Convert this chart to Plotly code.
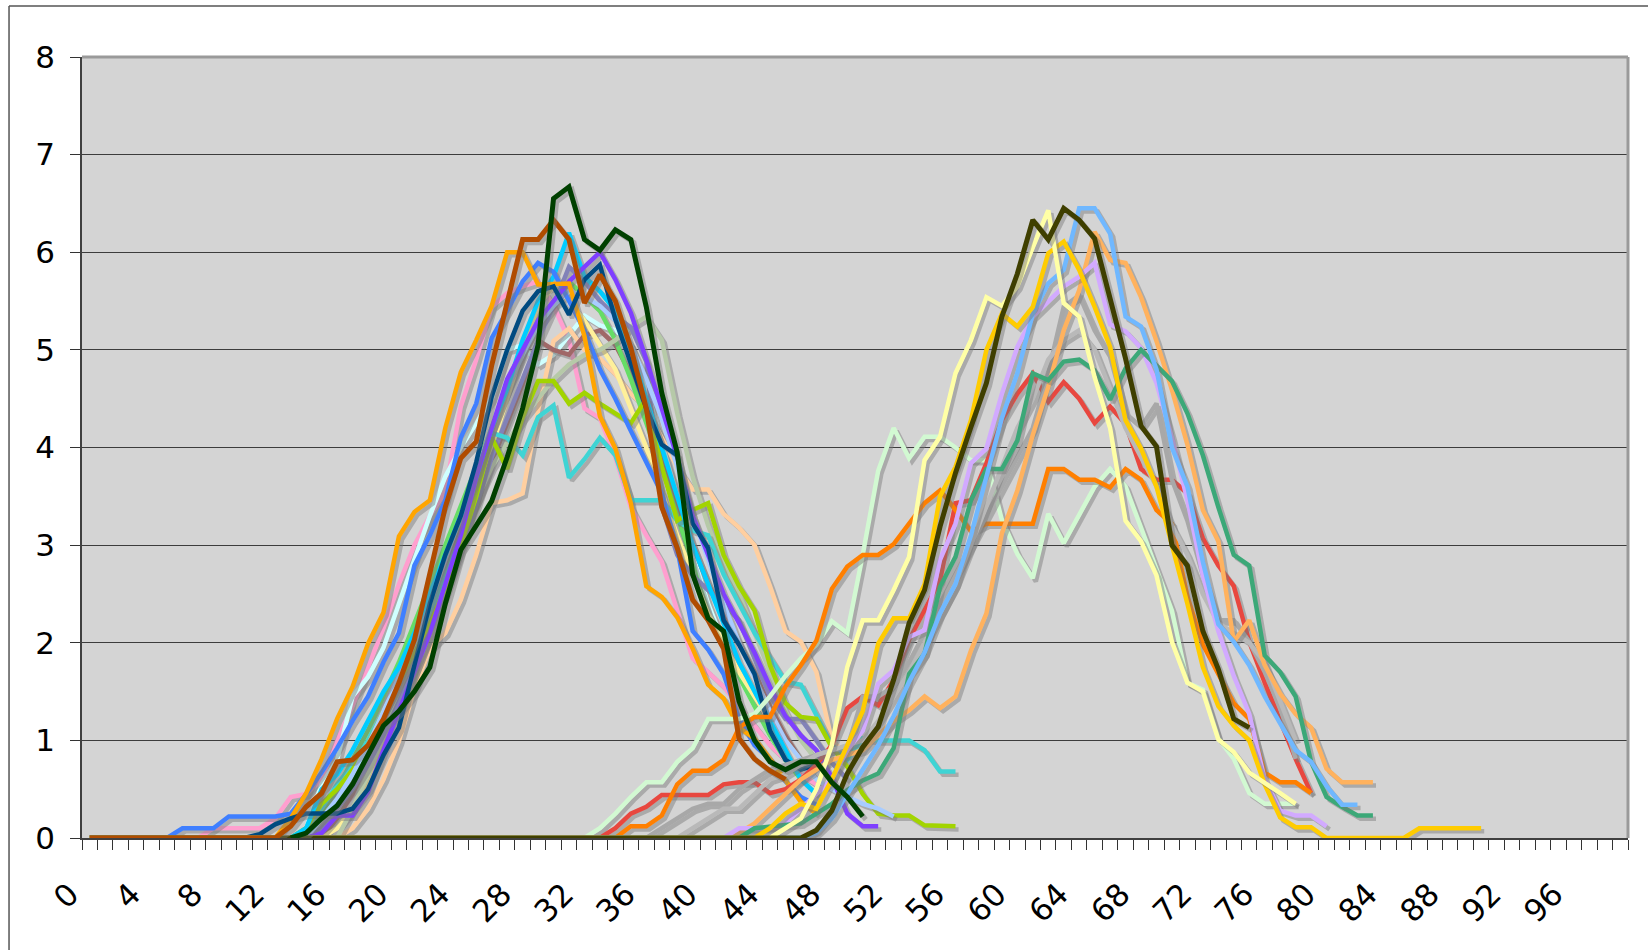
import plotly.graph_objects as go

# ---- category axis -------------------------------------------------------
n_categories = 100
x_tick_values = list(range(0, 97, 4))
x_tick_labels = [str(v) for v in x_tick_values]
y_tick_values = list(range(0, 9))

# ---- first group of curves (rise ~14, peak ~30, fall by ~50) -------------
pink_start = 0
pink = [0.0] * 8 + [0.1, 0.1, 0.1, 0.1, 0.2, 0.42, 0.45, 0.6, 1.0, 1.35, 1.75, 2.15, 2.6, 3.0, 3.3,
                    3.55, 4.42, 4.9, 5.44, 5.58, 5.65, 5.7, 5.45, 5.1, 4.4, 4.3, 3.9, 3.39, 3.1, 2.83,
                    2.33, 1.84, 1.7, 1.55, 1.35, 1.15, 0.95, 0.8, 0.65, 0.55]

light_cyan_start = 0
light_cyan = [0.0] * 14 + [0.1, 0.55, 0.8, 1.45, 1.65, 1.95, 2.4, 2.85, 3.3, 3.7, 4.0, 4.25, 4.5, 5.0,
                           5.05, 4.85, 4.95, 5.15, 5.35, 5.25, 5.2, 5.05, 4.6, 4.05, 3.5, 2.9, 2.4,
                           2.0, 1.65, 1.35, 1.05, 0.8, 0.6]

peach_start = 0
peach = [0.0] * 17 + [0.1, 0.3, 0.6, 0.99, 1.52, 1.94, 2.1, 2.44, 2.9, 3.43, 3.46, 3.53, 4.38, 5.09,
                      5.22, 5.0, 4.91, 4.75, 4.55, 4.4, 4.1, 3.8, 3.57, 3.57, 3.32, 3.18, 3.0, 2.58,
                      2.12, 2.01, 1.7, 1.0, 0.85]

dusty_rose_start = 0
dusty_rose = [0.0] * 16 + [0.2, 0.45, 0.8, 1.2, 1.6, 2.0, 2.45, 2.75, 3.15, 3.45, 3.85, 4.25, 4.65,
                           5.1, 5.0, 4.95, 5.15, 5.2, 5.05, 4.75, 4.35, 3.9, 3.4, 3.0, 2.6, 2.3,
                           2.0, 1.7, 1.35, 1.05, 0.8]

green_start = 0
green = [0.0] * 15 + [0.25, 0.5, 0.8, 1.1, 1.45, 1.8, 2.2, 2.6, 3.0, 3.4, 3.8, 4.2, 4.6, 5.0, 5.3,
                      5.5, 5.7, 5.55, 5.4, 5.1, 4.7, 4.25, 3.8, 3.3, 2.8, 2.3, 1.95, 1.65, 1.35,
                      1.05, 0.8, 0.6]

pale_yellow_start = 0
pale_yellow = [0.0] * 16 + [0.1, 0.3, 0.6, 0.95, 1.3, 1.7, 2.1, 2.55, 3.0, 3.5, 4.0, 4.5, 5.0, 5.45,
                            5.65, 5.5, 5.3, 5.05, 4.8, 4.4, 4.0, 3.55, 3.1, 2.7, 2.3, 2.0, 1.7,
                            1.45, 1.2, 1.0, 0.8, 0.6]

sage_start = 0
sage = [0.0] * 17 + [0.3, 0.65, 1.05, 1.45, 1.85, 2.25, 2.65, 3.05, 3.45, 3.8, 4.05, 4.3, 4.5, 4.7,
                     4.85, 4.95, 5.0, 5.1, 5.24, 5.34, 5.1, 4.35, 3.7, 3.2, 2.8, 2.5, 2.1, 1.7,
                     1.3, 1.0, 0.8, 0.6]

slate_start = 0
slate = [0.0] * 15 + [0.1, 0.3, 0.5, 0.75, 1.05, 1.4, 1.75, 2.1, 2.5, 2.95, 3.4, 3.9, 4.3, 4.7, 5.1,
                      5.45, 5.85, 5.7, 5.5, 5.35, 5.23, 4.88, 3.4, 2.9, 2.69, 2.54, 2.4, 2.23,
                      1.85, 1.45, 1.22, 1.22, 1.0, 0.77, 0.6]

turquoise_start = 0
turquoise = [0.0] * 14 + [0.1, 0.3, 0.55, 0.75, 1.0, 1.3, 1.6, 1.9, 2.3, 2.7, 3.1, 3.5, 4.15, 4.1,
                          3.92, 4.31, 4.43, 3.69, 3.88, 4.1, 3.92, 3.46, 3.46, 3.46, 3.25, 3.15,
                          3.1, 2.7, 2.4, 2.1, 1.85, 1.6, 1.57, 1.25, 0.95, 0.8, 1.02, 1.0, 1.0,
                          1.0, 0.9, 0.68, 0.68]

yellow_green_start = 0
yellow_green = [0.0] * 14 + [0.1, 0.35, 0.5, 0.7, 0.95, 1.3, 1.6, 1.9, 2.2, 2.55, 3.0, 3.5, 4.1,
                             3.78, 4.31, 4.68, 4.68, 4.45, 4.56, 4.45, 4.35, 4.25, 4.5, 3.8, 3.25,
                             3.36, 3.43, 2.9, 2.58, 2.33, 1.77, 1.38, 1.24, 1.22, 0.93, 0.73,
                             0.45, 0.25, 0.23, 0.23, 0.13, 0.12, 0.12]

light_blue_start = 0
light_blue = [0.0] * 15 + [0.2, 0.4, 0.65, 0.95, 1.3, 1.65, 2.0, 2.4, 2.85, 3.3, 3.75, 4.2, 4.6,
                           4.95, 5.25, 5.45, 5.6, 5.55, 5.45, 5.3, 5.05, 4.7, 4.3, 3.8, 3.3, 2.85,
                           2.4, 2.0, 1.65, 1.3, 1.0, 0.8, 0.6, 0.5, 0.42, 0.35, 0.3, 0.22]

cyan_start = 0
cyan = [0.0] * 14 + [0.1, 0.5, 0.65, 0.9, 1.2, 1.5, 1.75, 2.1, 2.5, 2.9, 3.3, 3.7, 4.2, 4.6, 5.1,
                     5.5, 5.75, 6.2, 5.75, 5.6, 5.4, 5.0, 4.5, 4.0, 3.5, 3.0, 2.6, 2.2, 1.8, 1.5,
                     1.2, 0.9, 0.6, 0.45]

blue_start = 0
blue = [0.0] * 6 + [0.1, 0.1, 0.1, 0.22, 0.22, 0.22, 0.22, 0.25, 0.45, 0.67, 0.92, 1.2, 1.45, 1.8,
                    2.1, 2.79, 3.1, 3.46, 4.1, 4.45, 5.12, 5.4, 5.7, 5.89, 5.8, 5.5, 5.2, 4.8, 4.5,
                    4.17, 3.85, 3.53, 2.97, 2.12, 1.93, 1.68, 1.22, 0.95, 0.81, 0.58, 0.42, 0.34]

purple_start = 0
purple = [0.0] * 15 + [0.05, 0.23, 0.23, 0.47, 0.9, 1.3, 1.7, 2.1, 2.6, 3.1, 3.7, 4.2, 4.7, 5.0,
                       5.3, 5.5, 5.7, 5.85, 6.0, 5.72, 5.38, 4.9, 4.4, 3.9, 3.3, 2.9, 2.5, 2.2,
                       1.9, 1.55, 1.25, 1.05, 0.9, 0.62, 0.25, 0.12, 0.12]

orange_start = 0
orange = [0.0] * 13 + [0.2, 0.46, 0.81, 1.22, 1.55, 1.99, 2.31, 3.09, 3.34, 3.46, 4.2, 4.77, 5.1,
                       5.45, 6.0, 6.0, 5.67, 5.67, 5.68, 5.14, 4.32, 3.99, 3.43, 2.58, 2.47, 2.26,
                       1.94, 1.57, 1.43, 1.13, 1.02, 0.81, 0.58, 0.37, 0.25]

navy_start = 0
navy = [0.0] * 11 + [0.04, 0.14, 0.2, 0.25, 0.25, 0.25, 0.3, 0.5, 0.85, 1.13, 1.77, 2.4, 2.9, 3.3,
                     3.85, 4.52, 5.0, 5.4, 5.6, 5.65, 5.36, 5.72, 5.87, 5.31, 4.86, 4.4, 4.03,
                     3.92, 3.22, 2.97, 2.23, 1.98, 1.68, 1.1, 0.8, 0.7, 0.75]

# ---- second group of curves (rise ~45, peak ~64, fall by ~80) ------------
mint_start = 0
mint = [0.0] * 33 + [0.1, 0.25, 0.42, 0.57, 0.57, 0.78, 0.92, 1.22, 1.22, 1.22, 1.27, 1.45, 1.66,
                     1.84, 1.98, 2.22, 2.1, 2.9, 3.76, 4.2, 3.89, 4.11, 4.11, 4.0, 3.87, 3.87, 3.26,
                     2.91, 2.66, 3.32, 3.02, 3.32, 3.6, 3.78, 3.6, 3.18, 2.76, 2.33, 1.59, 1.52,
                     1.02, 0.81, 0.46, 0.35, 0.35, 0.35]

red_start = 0
red = [0.0] * 34 + [0.1, 0.25, 0.32, 0.44, 0.44, 0.44, 0.44, 0.55, 0.57, 0.57, 0.46, 0.5, 0.6, 0.75,
                    0.95, 1.33, 1.45, 1.36, 1.62, 2.03, 2.33, 2.64, 3.43, 3.46, 3.84, 4.28, 4.55,
                    4.76, 4.47, 4.67, 4.5, 4.25, 4.42, 4.24, 3.78, 3.67, 3.67, 3.53, 3.07, 2.79,
                    2.58, 2.01, 1.59, 1.2, 0.81, 0.46]

deep_orange_start = 0
deep_orange = [0.0] * 35 + [0.12, 0.12, 0.23, 0.55, 0.69, 0.69, 0.8, 1.13, 1.24, 1.24, 1.55, 1.77,
                            2.02, 2.55, 2.78, 2.9, 2.9, 3.01, 3.22, 3.43, 3.56, 3.36, 3.14, 3.22,
                            3.22, 3.22, 3.22, 3.78, 3.78, 3.67, 3.67, 3.59, 3.78, 3.67, 3.36, 3.22,
                            2.47, 1.98, 1.68, 1.38, 1.22, 0.67, 0.57, 0.57, 0.46]

gray_start = 0
gray = [0.0] * 37 + [0.1, 0.2, 0.3, 0.35, 0.35, 0.5, 0.6, 0.7, 0.75, 0.8, 0.85, 0.9, 0.92, 1.45,
                     1.45, 1.55, 1.8, 2.1, 2.4, 2.7, 3.0, 3.3, 3.6, 3.9, 4.2, 4.76, 5.44, 5.56,
                     5.2, 4.93, 4.35, 4.21, 4.45, 3.67, 3.25, 2.69, 2.23, 2.23, 2.01, 1.7, 1.34,
                     0.81]

silver_start = 0
silver = [0.0] * 39 + [0.1, 0.2, 0.3, 0.3, 0.45, 0.6, 0.65, 0.75, 0.85, 0.9, 0.95, 1.0, 1.2, 1.45,
                       1.7, 2.0, 2.3, 2.6, 3.0, 3.4, 3.8, 4.2, 4.5, 4.9, 5.1, 5.2, 5.0, 4.6, 4.2,
                       3.9, 3.6, 3.2, 2.9, 2.5, 2.2, 2.1, 2.0, 1.8, 1.4, 1.0]

apricot_start = 0
apricot = [0.0] * 42 + [0.05, 0.15, 0.3, 0.45, 0.6, 0.7, 0.8, 0.85, 0.9, 1.05, 1.2, 1.31, 1.45,
                        1.33, 1.45, 1.92, 2.3, 3.12, 3.56, 4.13, 4.62, 5.2, 5.61, 6.21, 5.92, 5.89,
                        5.54, 5.09, 4.59, 4.03, 3.36, 3.04, 2.01, 2.23, 1.77, 1.48, 1.27, 1.13,
                        0.71, 0.57, 0.57, 0.57]

lavender_start = 0
lavender = [0.0] * 42 + [0.1, 0.1, 0.1, 0.15, 0.3, 0.45, 0.6, 0.9, 1.1, 1.58, 1.72, 2.06, 2.13,
                         2.85, 3.22, 3.84, 3.99, 4.55, 5.03, 5.34, 5.49, 5.65, 5.75, 5.89, 5.26,
                         5.19, 5.02, 4.66, 4.1, 3.46, 2.69, 2.12, 1.66, 1.27, 0.6, 0.28, 0.23,
                         0.23, 0.12]

sea_green_start = 0
sea_green = [0.0] * 43 + [0.1, 0.12, 0.13, 0.15, 0.25, 0.35, 0.49, 0.59, 0.66, 0.92, 1.68, 1.89,
                          2.57, 2.88, 3.46, 3.78, 3.78, 4.07, 4.76, 4.69, 4.88, 4.9, 4.79, 4.49,
                          4.81, 5.0, 4.84, 4.68, 4.35, 3.92, 3.39, 2.9, 2.79, 1.87, 1.7, 1.45,
                          0.78, 0.42, 0.32, 0.23, 0.23]

sky_blue_start = 0
sky_blue = [0.0] * 47 + [0.05, 0.2, 0.45, 0.7, 0.95, 1.25, 1.6, 1.9, 2.3, 2.6, 3.1, 3.7, 4.3, 4.76,
                         5.37, 5.68, 5.82, 6.45, 6.45, 6.19, 5.34, 5.24, 4.8, 4.0, 3.6, 2.83, 2.19,
                         2.01, 1.77, 1.45, 1.17, 0.9, 0.78, 0.53, 0.34, 0.34]

gold_start = 0
gold = [0.0] * 44 + [0.1, 0.25, 0.35, 0.3, 0.6, 0.95, 1.3, 1.99, 2.25, 2.25, 2.6, 3.5, 3.8, 4.28,
                     5.0, 5.37, 5.24, 5.44, 5.99, 6.11, 5.82, 5.44, 5.03, 4.28, 3.99, 3.6, 3.0,
                     2.4, 1.75, 1.35, 1.15, 1.0, 0.55, 0.21, 0.11, 0.11, 0.0, 0.0, 0.0, 0.0, 0.0,
                     0.0, 0.1, 0.1, 0.1, 0.1, 0.1]

cream_start = 0
cream = [0.0] * 45 + [0.1, 0.2, 0.5, 0.95, 1.75, 2.23, 2.23, 2.54, 2.88, 3.87, 4.11, 4.76, 5.1,
                      5.54, 5.45, 5.65, 6.05, 6.43, 5.48, 5.34, 4.72, 4.2, 3.25, 3.04, 2.69, 2.01,
                      1.59, 1.5, 1.01, 0.88, 0.67, 0.57, 0.46, 0.35]

olive_start = 0
olive = [0.0] * 47 + [0.08, 0.28, 0.66, 0.93, 1.14, 1.62, 2.2, 2.54, 3.19, 3.74, 4.21, 4.66, 5.34,
                      5.78, 6.33, 6.13, 6.45, 6.33, 6.14, 5.54, 4.91, 4.22, 4.01, 3.0, 2.79, 2.12,
                      1.73, 1.22, 1.13]

# ---- the two darkest curves of the first group, drawn last ---------------
rust_start = 0
rust = [0.0] * 13 + [0.12, 0.32, 0.46, 0.78, 0.8, 0.95, 1.22, 1.59, 2.03, 2.72, 3.39, 3.89, 4.06,
                     4.84, 5.5, 6.13, 6.13, 6.33, 6.13, 5.48, 5.77, 5.5, 5.02, 4.4, 3.39, 2.97,
                     2.44, 2.23, 1.94, 1.02, 0.81, 0.69, 0.6]

forest_start = 13
forest = [0.0, 0.05, 0.2, 0.33, 0.55, 0.85, 1.15, 1.3, 1.5, 1.75, 2.4, 2.95, 3.2, 3.45, 3.9, 4.4,
          5.05, 6.55, 6.67, 6.13, 6.02, 6.23, 6.13, 5.44, 4.56, 3.95, 2.7, 2.25, 2.12, 1.4, 1.0,
          0.78, 0.7, 0.78, 0.78, 0.57, 0.42, 0.22]

# drawing order, colour, line width
series = [
    (pink_start, pink, "#FF9FCF", 4.5),
    (light_cyan_start, light_cyan, "#CFFFFF", 4.5),
    (peach_start, peach, "#FFCFA0", 4.5),
    (dusty_rose_start, dusty_rose, "#A06868", 4.5),
    (green_start, green, "#66DD66", 4.5),
    (pale_yellow_start, pale_yellow, "#FFF09A", 4.5),
    (sage_start, sage, "#B6C9A8", 4.5),
    (slate_start, slate, "#8282B8", 4.5),
    (turquoise_start, turquoise, "#3FD4D4", 4.5),
    (yellow_green_start, yellow_green, "#A2D400", 4.5),
    (light_blue_start, light_blue, "#A8CCFF", 4.5),
    (cyan_start, cyan, "#00CCFF", 4.5),
    (blue_start, blue, "#3F7FFF", 4.5),
    (purple_start, purple, "#7F3FFF", 4.5),
    (orange_start, orange, "#FFA500", 4.5),
    (navy_start, navy, "#004A80", 4.5),
    (mint_start, mint, "#D2F9D2", 4.5),
    (red_start, red, "#E8473F", 4.5),
    (deep_orange_start, deep_orange, "#FF7F00", 4.5),
    (gray_start, gray, "#A8A8A8", 4.5),
    (silver_start, silver, "#B9B9B9", 4.5),
    (apricot_start, apricot, "#FFB25E", 4.5),
    (lavender_start, lavender, "#D2AAFF", 4.5),
    (sea_green_start, sea_green, "#3CA878", 4.5),
    (sky_blue_start, sky_blue, "#70B8FF", 4.5),
    (gold_start, gold, "#FFCC00", 4.5),
    (cream_start, cream, "#FFFFA6", 4.5),
    (olive_start, olive, "#3F3F00", 5),
    (rust_start, rust, "#B04C00", 5),
    (forest_start, forest, "#004000", 5),
]

# drop shadow offset (categories, value units)
shadow_dx = 0.2
shadow_dy = 0.032

fig = go.Figure()
for start, values, color, width in series:
    xs = list(range(start, start + len(values)))
    fig.add_trace(go.Scatter(
        x=[x + shadow_dx for x in xs], y=[v - shadow_dy for v in values],
        mode="lines", line=dict(color="rgba(120,120,120,0.45)", width=width),
        hoverinfo="skip", showlegend=False))
    fig.add_trace(go.Scatter(
        x=xs, y=values, mode="lines",
        line=dict(color=color, width=width),
        hoverinfo="skip", showlegend=False))

fig.update_layout(
    width=1648, height=950, autosize=False,
    margin=dict(l=82, r=20, t=57, b=112),
    paper_bgcolor="white", plot_bgcolor="#D4D4D4",
    font=dict(family="DejaVu Sans, Verdana, sans-serif", color="black"),
    showlegend=False,
)

fig.update_xaxes(
    range=[-0.5, n_categories - 0.5],
    tickmode="array", tickvals=x_tick_values, ticktext=x_tick_labels,
    tickangle=-45, tickfont=dict(size=31), ticks="",
    ticklabelstandoff=24, ticklabelshift=-20,
    showgrid=False, zeroline=False,
    showline=True, linecolor="#404040", linewidth=1.5,
    minor=dict(tickmode="linear", tick0=-0.5, dtick=1, ticks="outside",
               ticklen=10, tickwidth=1, tickcolor="#333333", showgrid=False),
)

fig.update_yaxes(
    range=[0, 8], tickmode="array", tickvals=y_tick_values,
    tickfont=dict(size=31), ticks="outside", ticklen=10, tickcolor="#333333",
    ticklabelstandoff=9,
    showgrid=True, gridcolor="#3C3C3C", gridwidth=1.2,
    zeroline=False, showline=True, linecolor="#404040", linewidth=1.5,
)

# plot-area frame (top and right in grey) and the outer chart border
frame = dict(color="#9A9A9A", width=3)
border = dict(color="#555555", width=1.5)
fig.add_shape(type="line", xref="paper", yref="paper", x0=0, x1=1, y0=1, y1=1, line=frame)
fig.add_shape(type="line", xref="paper", yref="paper", x0=1, x1=1, y0=0, y1=1, line=frame)
fig.add_shape(type="line", xref="paper", yref="paper", x0=-0.0472, x1=1.05, y0=1.0653, y1=1.0653, line=border)
fig.add_shape(type="line", xref="paper", yref="paper", x0=-0.0472, x1=-0.0472, y0=-0.2, y1=1.0653, line=border)

fig.write_html("out.html")
